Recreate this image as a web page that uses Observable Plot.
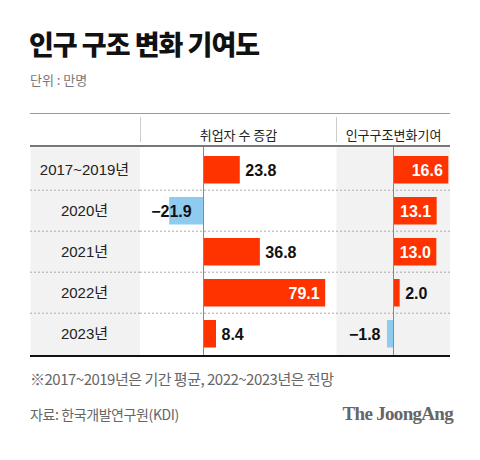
<!DOCTYPE html>
<html><head><meta charset="utf-8">
<script src="https://cdn.jsdelivr.net/npm/d3@7"></script>
<script src="https://cdn.jsdelivr.net/npm/@observablehq/plot@0.6"></script>
<style>
body{margin:0;background:#fff;}
#wrap{position:relative;width:480px;height:460px;background:#fff;font-family:"Liberation Sans","Noto Sans CJK KR",sans-serif;overflow:hidden;}
.abs{position:absolute;}
#title{left:29px;top:24px;font-family:"Noto Sans CJK KR";font-weight:900;font-size:27px;letter-spacing:-1px;color:#111;line-height:40px;white-space:nowrap;}
#sub{left:30px;top:70px;font-family:"Noto Sans CJK KR";font-size:13px;color:#777;line-height:20px;}
#note{left:30px;top:369px;font-family:"Noto Sans CJK KR";font-size:15px;color:#666;letter-spacing:-0.5px;line-height:20px;white-space:nowrap;}
#src{left:30px;top:404px;font-family:"Noto Sans CJK KR";font-size:14px;color:#666;letter-spacing:-0.4px;line-height:20px;white-space:nowrap;}
#logo{right:27px;top:403px;font-family:"Liberation Serif","DejaVu Serif",serif;font-weight:700;font-size:19px;color:#666;letter-spacing:-0.7px;line-height:22px;white-space:nowrap;}
svg{display:block;}
</style>
</head><body>
<div id="wrap">
  <div id="title" class="abs">인구 구조 변화 기여도</div>
  <div id="sub" class="abs">단위 : 만명</div>
  <div id="note" class="abs">※2017~2019년은 기간 평균, 2022~2023년은 전망</div>
  <div id="src" class="abs">자료: 한국개발연구원(KDI)</div>
  <div id="logo" class="abs">The JoongAng</div>
</div>
<script>
// ---- data ----
const categories = ["2017~2019년", "2020년", "2021년", "2022년", "2023년"];
const employmentChange = [23.8, -21.9, 36.8, 79.1, 8.4];
const demographicContribution = [16.6, 13.1, 13.0, 2.0, -1.8];
const panelTitles = ["취업자 수 증감", "인구구조변화기여"];

// ---- layout ----
const TOP = 113, H = 243, MT = 34, MB = 1;
const step = (H - MT - MB) / categories.length;
const RED = "#ff3300", BLUE = "#8ecbef";
const wrap = document.getElementById("wrap");
const numFont = "Liberation Sans, Arial, sans-serif";

function place(el, left, top) {
  el.style.position = "absolute";
  el.style.left = left + "px";
  el.style.top = top + "px";
  wrap.appendChild(el);
}
function div(left, top, width, height, css) {
  const d = document.createElement("div");
  d.style.cssText = `position:absolute;left:${left}px;top:${top}px;width:${width}px;height:${height}px;${css}`;
  wrap.appendChild(d);
}

const yScale = {type: "band", domain: categories, padding: 0, align: 0.5, axis: null};
// separators placed at the top edge of each band (after the first)
const separators = () => Plot.tickY(categories.slice(1), {y: d => d, stroke: "#aaa", strokeDasharray: "2,2", dy: -step / 2});

// label column
const labels = Plot.plot({
  width: 110, height: H, marginTop: MT, marginBottom: MB, marginLeft: 0, marginRight: 0,
  y: yScale,
  marks: [
    Plot.frame({fill: "#f2f2f2", stroke: null}),
    separators(),
    Plot.text(categories, {y: d => d, frameAnchor: "middle", fontSize: 15, fill: "#222",
      fontFamily: "Liberation Sans, Noto Sans CJK KR, sans-serif", dx: -1})
  ]
});
place(labels, 30, TOP);

const fmt = v => v < 0 ? "−" + Math.abs(v).toFixed(1) : v.toFixed(1);

function panel(values, title, domain, width, opts) {
  const rows = categories.map((c, i) => ({cat: c, v: values[i]}));
  const inside = rows.filter(d => d.v > opts.insideMin);
  const outPos = rows.filter(d => d.v >= 0 && !(d.v > opts.insideMin));
  const outNeg = rows.filter(d => d.v < 0);
  const txt = {y: "cat", x: "v", text: d => fmt(d.v), dy: 1, fontWeight: "bold", fontSize: 16, fontFamily: numFont};
  return Plot.plot({
    width, height: H, marginTop: MT, marginBottom: MB, marginLeft: 0, marginRight: 0,
    x: {domain, axis: null},
    y: yScale,
    marks: [
      opts.bg ? Plot.frame({fill: opts.bg, stroke: null}) : null,
      separators(),
      Plot.barX(rows, {y: "cat", x: "v", fill: d => d.v >= 0 ? RED : BLUE, insetTop: 7, insetBottom: 6.5}),
      Plot.ruleX([0], {stroke: "#888", strokeWidth: 1}),
      Plot.text(outPos, {...txt, textAnchor: "start", dx: 5, fill: "#111"}),
      Plot.text(outNeg, {...txt, textAnchor: "end", dx: opts.negDx, fill: "#111"}),
      Plot.text(inside, {...txt, textAnchor: "end", dx: -6, fill: "#fff"}),
      Plot.text([title], {frameAnchor: "top", dy: -17, fontSize: 13, fill: "#222",
        fontFamily: "Noto Sans CJK KR, sans-serif"})
    ]
  });
}

place(panel(employmentChange, panelTitles[0], [-40.8, 86.1], 196, {insideMin: 60, negDx: 22}), 140, TOP);
place(panel(demographicContribution, panelTitles[1], [-17.1, 17.1], 114, {insideMin: 5, negDx: -7, bg: "#f2f2f2"}), 336, TOP);

// table chrome
div(30, 113, 420, 1, "background:#999;");
div(140, 117, 1, 25, "background:#ccc;");
div(336, 117, 1, 25, "background:#ccc;");
div(30, 145, 420, 2, "background:#777;");
div(30, 355, 420, 2, "background:#111;");
</script>
</body></html>
